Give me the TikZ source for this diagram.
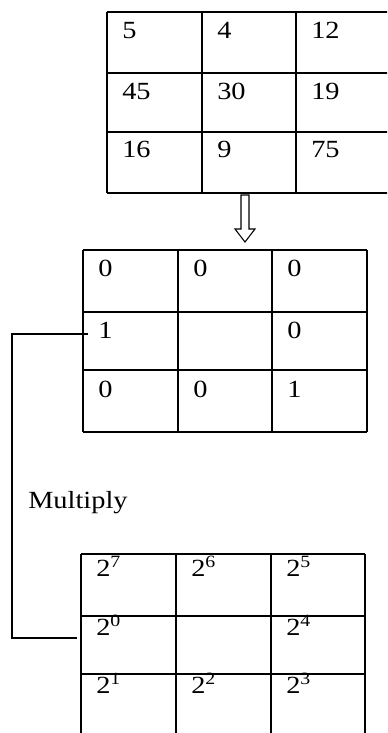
\documentclass[tikz,border=0pt]{standalone}
\usepackage{graphicx}
\usepackage{fontspec}
\setmainfont{Liberation Serif}
\newcommand\wide[1]{\scalebox{1.15}[1]{#1}}
\begin{document}
\begin{tikzpicture}[x=0.75pt,y=-0.75pt,
  gridline/.style={line width=1.5pt},
  lbl/.style={anchor=base west,inner sep=0pt,font=\fontsize{18.5}{22}\selectfont},
  conn/.style={line width=1.1pt},
  blockarrow/.style={line width=0.8pt,fill=white}]
\useasboundingbox (0,0) rectangle (387,733);
\clip (0,0) rectangle (387,733);
% ---- top table
\foreach \y in {12,73,132,193} \draw[gridline] (107,\y) -- (392,\y);
\foreach \x in {107,202,296} \draw[gridline] (\x,12) -- (\x,193);
\node[lbl] (t11) at (122,38) {\wide{5}};
\node[lbl] (t12) at (217,38) {\wide{4}};
\node[lbl] (t13) at (311,38) {\wide{12}};
\node[lbl] (t21) at (122,99) {\wide{45}};
\node[lbl] (t22) at (217,99) {\wide{30}};
\node[lbl] (t23) at (311,99) {\wide{19}};
\node[lbl] (t31) at (122,157) {\wide{16}};
\node[lbl] (t32) at (217,157) {\wide{9}};
\node[lbl] (t33) at (311,157) {\wide{75}};
% ---- block arrow
\draw[blockarrow] (241,195) -- (249,195) -- (249,229) -- (255,229) -- (245,242)
  -- (235,229) -- (241,229) -- cycle;
% ---- middle table
\foreach \y in {250,312,370,432} \draw[gridline] (83,\y) -- (367,\y);
\foreach \x in {83,178,272,367} \draw[gridline] (\x,250) -- (\x,432);
\node[lbl] (m11) at (98,276) {\wide{0}};
\node[lbl] (m12) at (193,276) {\wide{0}};
\node[lbl] (m13) at (287,276) {\wide{0}};
\node[lbl] (m21) at (98,338) {\wide{1}};
\node[lbl] (m23) at (287,338) {\wide{0}};
\node[lbl] (m31) at (98,397) {\wide{0}};
\node[lbl] (m32) at (193,397) {\wide{0}};
\node[lbl] (m33) at (287,397) {\wide{1}};
% ---- label
\node[lbl] (mul) at (28,508) {\wide{Multiply}};
% ---- bottom table
\foreach \y in {554,616,674} \draw[gridline] (81,\y) -- (365,\y);
\foreach \x in {81,176,271,365} \draw[gridline] (\x,554) -- (\x,740);
\node[lbl] (b11) at (96,576) {\wide{2\textsuperscript{7}}};
\node[lbl] (b12) at (191,576) {\wide{2\textsuperscript{6}}};
\node[lbl] (b13) at (286,576) {\wide{2\textsuperscript{5}}};
\node[lbl] (b21) at (96,635) {\wide{2\textsuperscript{0}}};
\node[lbl] (b23) at (286,635) {\wide{2\textsuperscript{4}}};
\node[lbl] (b31) at (96,693) {\wide{2\textsuperscript{1}}};
\node[lbl] (b32) at (191,693) {\wide{2\textsuperscript{2}}};
\node[lbl] (b33) at (286,693) {\wide{2\textsuperscript{3}}};
% ---- connector
\coordinate (c1) at (88,334);
\coordinate (c2) at (77,638);
\coordinate (k) at (12,486);
\draw[conn] (c1) -| (k) |- (c2);
\end{tikzpicture}
\end{document}
